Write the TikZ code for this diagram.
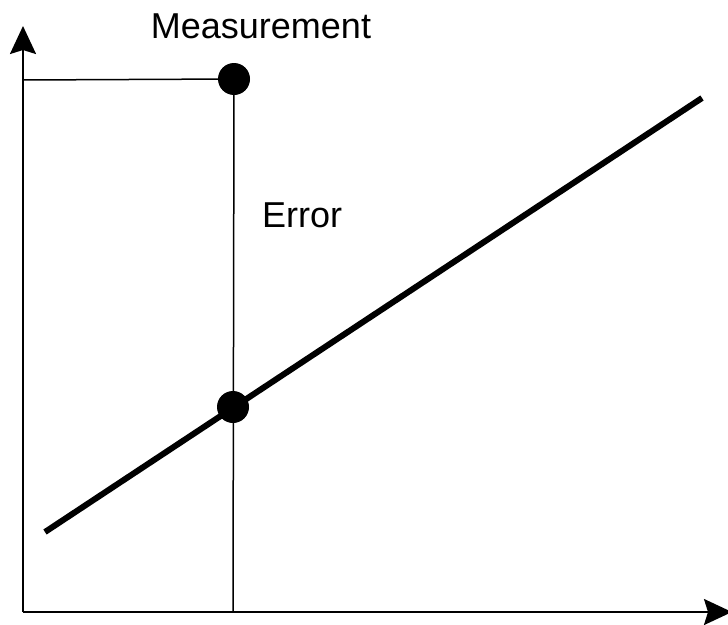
\documentclass[tikz,border=0pt]{standalone}
\usepackage{fontspec}
\setmainfont{Liberation Sans}
\usetikzlibrary{arrows.meta}
\begin{document}
\begin{tikzpicture}[x=1pt,y=-1pt,
  axis/.style={line width=2pt,-{Stealth[length=28pt,width=26pt,inset=4pt]}},
  thin line/.style={line width=1.5pt},
  fit line/.style={line width=6pt},
  dot/.style={circle,fill=black,inner sep=0pt,minimum size=32pt},
  lbl/.style={font=\fontsize{36}{40}\selectfont,inner sep=0pt}]
\useasboundingbox (0,0) rectangle (728,624);
\coordinate (o) at (23,612);
\coordinate (ytip) at (23,26);
\coordinate (xtip) at (732,612);
\coordinate (yhit) at (23,80);
\coordinate (foot) at (233,612);
\coordinate (ls) at (45,532);
\coordinate (le) at (702,98);
\node[dot] (m) at (234,79) {};
\node[dot] (p) at (233,407) {};
\draw[axis] (o) -- (ytip);
\draw[axis] (o) -- (xtip);
\draw[thin line] (yhit) -- (m.center);
\draw[thin line] (m.center) -- (foot);
\draw[fit line] (ls) -- (le);
\node[lbl,anchor=base] (mt) at (261,38) {Measurement};
\node[lbl,anchor=base west] (et) at (262,227) {Error};
\end{tikzpicture}
\end{document}
